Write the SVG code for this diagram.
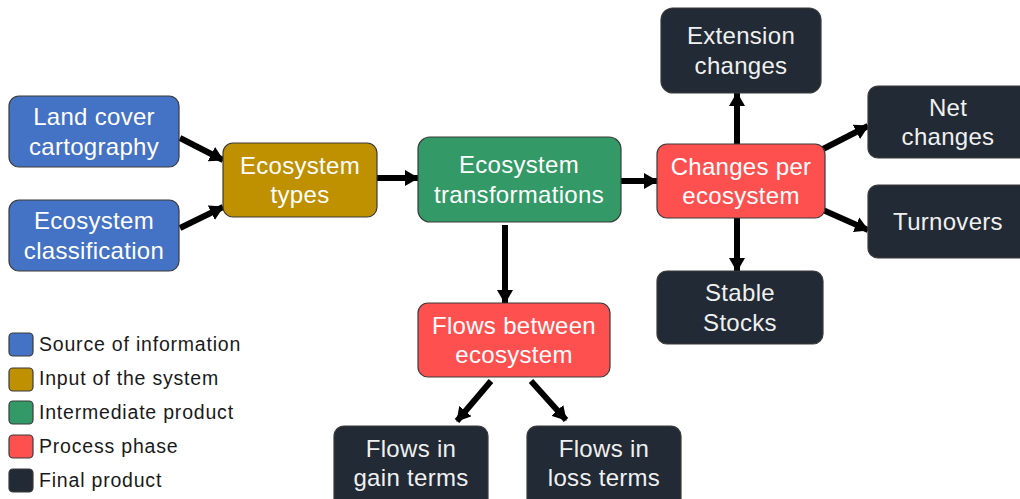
<svg xmlns="http://www.w3.org/2000/svg" width="1020" height="499" viewBox="0 0 1020 499">
  <style>
    .box { stroke: #3a3a3a; stroke-width: 1.2; }
    .src { fill: #4472C4; }
    .inp { fill: #BF9000; }
    .mid { fill: #339966; }
    .proc { fill: #FF5050; }
    .fin { fill: #222A35; }
    .lbl { font-family: "Liberation Sans", Arial, sans-serif; font-size: 24px; letter-spacing: 0.3px; fill: #ffffff; text-anchor: middle; }
    .lbl.light { fill: #f0f0f0; }
    .leg { font-family: "Liberation Sans", Arial, sans-serif; font-size: 19.5px; letter-spacing: 0.8px; fill: #1a1a1a; }
    .arrow { stroke: #000; stroke-width: 6; fill: none; marker-end: url(#head); }
  </style>
  <defs>
    <marker id="head" markerUnits="userSpaceOnUse" markerWidth="14" markerHeight="16" refX="13" refY="8" orient="auto">
      <path d="M0,0 L14,8 L0,16 Z" fill="#000"/>
    </marker>
  </defs>
  <rect width="1020" height="499" fill="#ffffff"/>

  <g id="connectors">
    <line class="arrow" x1="180" y1="138" x2="223" y2="160"/>
    <line class="arrow" x1="180" y1="228" x2="223" y2="207"/>
    <line class="arrow" x1="377" y1="178" x2="418" y2="178"/>
    <line class="arrow" x1="621" y1="181" x2="657" y2="181"/>
    <line class="arrow" x1="505" y1="225" x2="505" y2="303"/>
    <line class="arrow" x1="737" y1="144" x2="737" y2="93"/>
    <line class="arrow" x1="737" y1="218" x2="737" y2="271"/>
    <line class="arrow" x1="823" y1="149" x2="868" y2="126"/>
    <line class="arrow" x1="823" y1="210" x2="868" y2="230"/>
    <line class="arrow" x1="491" y1="381" x2="457" y2="421"/>
    <line class="arrow" x1="531" y1="381" x2="566" y2="420"/>
  </g>

  <g id="land-cover">
    <rect class="box src" x="9" y="96" width="170" height="71" rx="10"/>
    <text class="lbl" x="94" y="125">Land cover</text>
    <text class="lbl" x="94" y="154.5">cartography</text>
  </g>
  <g id="eco-classification">
    <rect class="box src" x="9" y="200" width="170" height="71" rx="10"/>
    <text class="lbl" x="94" y="229">Ecosystem</text>
    <text class="lbl" x="94" y="258.5">classification</text>
  </g>
  <g id="eco-types">
    <rect class="box inp" x="223" y="143" width="154" height="74" rx="10"/>
    <text class="lbl" x="300" y="174">Ecosystem</text>
    <text class="lbl" x="300" y="203">types</text>
  </g>
  <g id="eco-transformations">
    <rect class="box mid" x="418" y="137" width="203" height="85" rx="12"/>
    <text class="lbl" x="519" y="173">Ecosystem</text>
    <text class="lbl" x="519" y="202.5">transformations</text>
  </g>
  <g id="flows-between">
    <rect class="box proc" x="418" y="303" width="192" height="74" rx="10"/>
    <text class="lbl" x="514" y="333.5">Flows between</text>
    <text class="lbl" x="514" y="363">ecosystem</text>
  </g>
  <g id="changes-per">
    <rect class="box proc" x="657" y="144" width="168" height="74" rx="10"/>
    <text class="lbl" x="741" y="174.5">Changes per</text>
    <text class="lbl" x="741" y="204">ecosystem</text>
  </g>
  <g id="extension-changes">
    <rect class="box fin" x="661" y="8" width="160" height="85" rx="12"/>
    <text class="lbl light" x="741" y="44">Extension</text>
    <text class="lbl light" x="741" y="73.5">changes</text>
  </g>
  <g id="net-changes">
    <rect class="box fin" x="868" y="86" width="162" height="72" rx="10"/>
    <text class="lbl light" x="948" y="115.5">Net</text>
    <text class="lbl light" x="948" y="145">changes</text>
  </g>
  <g id="turnovers">
    <rect class="box fin" x="868" y="185" width="162" height="73" rx="10"/>
    <text class="lbl light" x="948" y="230">Turnovers</text>
  </g>
  <g id="stable-stocks">
    <rect class="box fin" x="657" y="271" width="166" height="73" rx="10"/>
    <text class="lbl light" x="740" y="301">Stable</text>
    <text class="lbl light" x="740" y="330.5">Stocks</text>
  </g>
  <g id="flows-gain">
    <rect class="box fin" x="334" y="426" width="154" height="85" rx="10"/>
    <text class="lbl light" x="411" y="457">Flows in</text>
    <text class="lbl light" x="411" y="486">gain terms</text>
  </g>
  <g id="flows-loss">
    <rect class="box fin" x="527" y="426" width="154" height="85" rx="10"/>
    <text class="lbl light" x="604" y="457">Flows in</text>
    <text class="lbl light" x="604" y="486">loss terms</text>
  </g>

  <g id="legend">
    <rect class="box src" x="9" y="333" width="24" height="23" rx="4"/>
    <text class="leg" x="39" y="351">Source of information</text>
    <rect class="box inp" x="9" y="368" width="24" height="23" rx="4"/>
    <text class="leg" x="39" y="385">Input of the system</text>
    <rect class="box mid" x="9" y="401" width="24" height="23" rx="4"/>
    <text class="leg" x="39" y="419">Intermediate product</text>
    <rect class="box proc" x="9" y="435" width="24" height="23" rx="4"/>
    <text class="leg" x="39" y="453">Process phase</text>
    <rect class="box fin" x="9" y="469" width="24" height="23" rx="4"/>
    <text class="leg" x="39" y="487">Final product</text>
  </g>
</svg>
